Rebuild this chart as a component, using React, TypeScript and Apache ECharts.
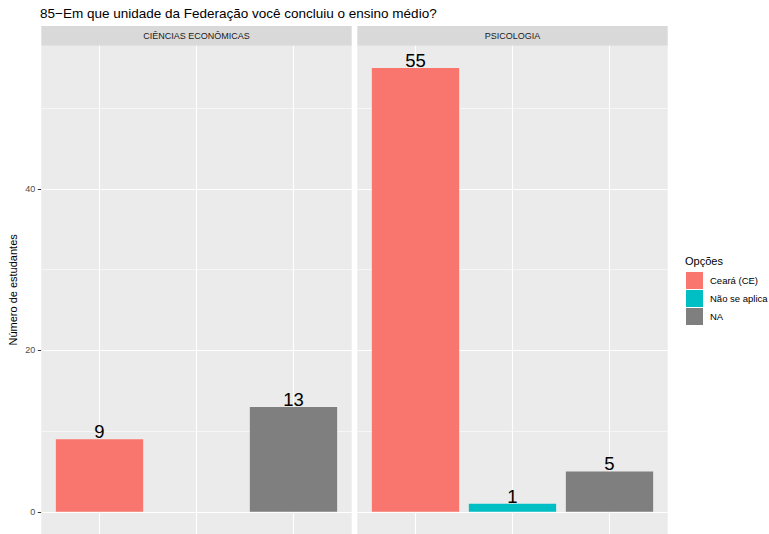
import React, { useEffect, useRef } from 'react';
import * as echarts from 'echarts';

const TITLE = '85−Em que unidade da Federação você concluiu o ensino médio?';
const categories = ['Ceará (CE)', 'Não se aplica', 'NA'];
const panelNames = ['CIÊNCIAS ECONÔMICAS', 'PSICOLOGIA'];
const cienciasEconomicas: (number | null)[] = [9, null, 13];
const psicologia: (number | null)[] = [55, 1, 5];
const yTickValues = [0, 20, 40];
const yMinorValues = [10, 30, 50];
const colors = ['#F8766D', '#00BFC4', '#7F7F7F'];
const LEGEND_TITLE = 'Opções';
const Y_NAME = 'Número de estudantes';

const FONT = '"Liberation Sans", Arial, Helvetica, sans-serif';
const PANEL_LEFT = [41.3, 357.3];
const PANEL_W = 310.4;
const PANEL_TOP = 45.8;
const PANEL_H = 489.8;
const STRIP_TOP = 26;
const Y_MIN = -2.75;
const Y_MAX = 57.75;
const X_MIN = 0.4;
const X_MAX = 3.6;

export default function App() {
  const ref = useRef<HTMLDivElement>(null);
  useEffect(() => {
    if (!ref.current) return;
    const chart = echarts.init(ref.current, undefined, { renderer: 'svg' });
    const panelData = [cienciasEconomicas, psicologia];
    const barWidth = (0.9 * PANEL_W) / (X_MAX - X_MIN);

    const series: any[] = [];
    panelData.forEach((vals, p) => {
      const gridLines: any[] = [];
      yTickValues.forEach((v) =>
        gridLines.push({ yAxis: v, lineStyle: { color: '#FFFFFF', width: 1.1, type: 'solid' } })
      );
      yMinorValues.forEach((v) =>
        gridLines.push({ yAxis: v, lineStyle: { color: '#FFFFFF', width: 0.55, type: 'solid' } })
      );
      categories.forEach((_, c) =>
        gridLines.push({ xAxis: c + 1, lineStyle: { color: '#FFFFFF', width: 1.1, type: 'solid' } })
      );
      series.push({
        type: 'line',
        name: 'grid' + p,
        xAxisIndex: p,
        yAxisIndex: p,
        data: [],
        silent: true,
        markLine: {
          silent: true,
          z: 1,
          symbol: ['none', 'none'],
          label: { show: false },
          emphasis: { disabled: true },
          data: gridLines,
        },
      });
      vals.forEach((v, c) => {
        if (v === null) return;
        series.push({
          type: 'bar',
          name: categories[c],
          xAxisIndex: p,
          yAxisIndex: p,
          z: 3,
          barWidth,
          barGap: '-100%',
          data: [[c + 1, v]],
          itemStyle: { color: colors[c] },
          label: {
            show: true,
            position: 'top',
            distance: -2,
            fontSize: 18.5,
            fontFamily: FONT,
            color: '#000000',
            formatter: (d: any) => String(d.value[1]),
          },
        });
      });
    });

    const graphic: any[] = [];
    panelNames.forEach((name, p) => {
      graphic.push({
        type: 'rect',
        shape: { x: PANEL_LEFT[p], y: STRIP_TOP, width: PANEL_W, height: PANEL_TOP - STRIP_TOP },
        style: { fill: '#D9D9D9' },
        silent: true,
      });
      graphic.push({
        type: 'text',
        x: PANEL_LEFT[p] + PANEL_W / 2,
        y: (STRIP_TOP + PANEL_TOP) / 2,
        style: {
          text: name,
          align: 'center',
          verticalAlign: 'middle',
          fontSize: 9,
          fontFamily: FONT,
          fill: '#1A1A1A',
        },
        silent: true,
      });
    });
    graphic.push({
      type: 'text',
      x: 685,
      y: 261,
      style: {
        text: LEGEND_TITLE,
        verticalAlign: 'middle',
        fontSize: 11,
        fontFamily: FONT,
        fill: '#000000',
      },
      silent: true,
    });

    const option: any = {
      animation: false,
      backgroundColor: '#FFFFFF',
      textStyle: { fontFamily: FONT },
      title: {
        text: TITLE,
        left: 40,
        top: 6,
        padding: 0,
        textStyle: { fontSize: 13.5, fontWeight: 'normal', color: '#000000', fontFamily: FONT },
      },
      grid: PANEL_LEFT.map((left) => ({
        left,
        top: PANEL_TOP,
        width: PANEL_W,
        height: PANEL_H,
        show: true,
        backgroundColor: '#EBEBEB',
        borderWidth: 0,
        containLabel: false,
      })),
      xAxis: PANEL_LEFT.map((_, p) => ({
        type: 'value',
        gridIndex: p,
        min: X_MIN,
        max: X_MAX,
        show: false,
        splitLine: { show: false },
      })),
      yAxis: PANEL_LEFT.map((_, p) => ({
        type: 'value',
        gridIndex: p,
        min: Y_MIN,
        max: Y_MAX,
        splitLine: { show: false },
        axisLine: { show: false },
        axisTick: {
          show: p === 0,
          length: 3.5,
          lineStyle: { color: '#333333', width: 1 },
          customValues: yTickValues,
        },
        axisLabel: {
          show: p === 0,
          customValues: yTickValues,
          color: '#4D4D4D',
          fontSize: 9,
          fontFamily: FONT,
          margin: 6,
        },
        name: p === 0 ? Y_NAME : '',
        nameLocation: 'middle',
        nameGap: 23,
        nameRotate: 90,
        nameTextStyle: { fontSize: 11, color: '#000000', fontFamily: FONT },
      })),
      legend: {
        orient: 'vertical',
        left: 686,
        top: 272,
        padding: 0,
        itemWidth: 17,
        itemHeight: 17,
        itemGap: 1,
        selectedMode: false,
        data: categories.map((name) => ({ name, icon: 'rect' })),
        textStyle: { fontSize: 9.5, color: '#000000', fontFamily: FONT, padding: [0, 0, 0, 2] },
      },
      graphic,
      series,
    };
    chart.setOption(option);
    return () => chart.dispose();
  }, []);
  return (
    <div
      ref={ref}
      style={{ position: 'fixed', left: 0, top: 0, width: 769, height: 534 }}
    />
  );
}
